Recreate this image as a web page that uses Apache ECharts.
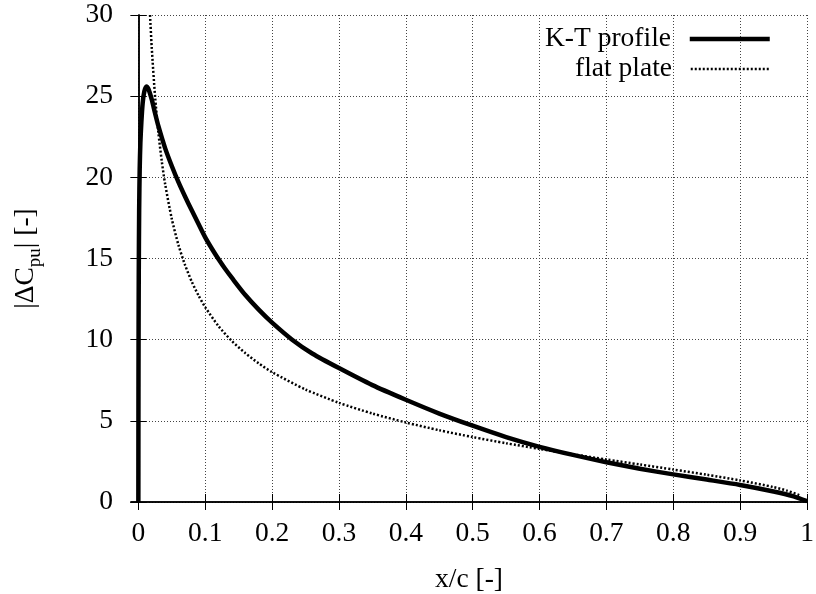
<!DOCTYPE html>
<html><head><meta charset="utf-8">
<script src="https://cdn.jsdelivr.net/npm/echarts@6/dist/echarts.min.js"></script>
<style>html,body{margin:0;padding:0;background:#fff}#c{width:816px;height:594px}</style>
</head><body><div id="c"></div>
<script>
// ---- data ----
const seriesNames = ['K-T profile', 'flat plate'];
const ktX = [0, 0.0002, 0.0006, 0.0012, 0.002, 0.003, 0.0045, 0.0065, 0.009, 0.012, 0.015, 0.02, 0.025, 0.03, 0.04, 0.05, 0.06, 0.07, 0.08, 0.09, 0.1, 0.11, 0.12, 0.13, 0.14, 0.16, 0.18, 0.2, 0.23, 0.26, 0.3, 0.35, 0.4, 0.45, 0.5, 0.55, 0.6, 0.65, 0.7, 0.75, 0.8, 0.85, 0.9, 0.95, 0.98, 1.0];
const ktY = [0, 8, 14, 18, 20.5, 22.1, 23.4, 24.6, 25.3, 25.6, 25.45, 24.8, 23.95, 23.15, 21.8, 20.7, 19.7, 18.8, 17.95, 17.12, 16.3, 15.6, 14.95, 14.35, 13.8, 12.75, 11.85, 11.05, 10.0, 9.15, 8.25, 7.2, 6.3, 5.45, 4.7, 4.0, 3.4, 2.9, 2.45, 2.05, 1.7, 1.38, 1.05, 0.65, 0.35, 0.05];
const fpX = [0.0175, 0.02, 0.025, 0.03, 0.035, 0.04, 0.05, 0.06, 0.07, 0.08, 0.09, 0.1, 0.12, 0.14, 0.16, 0.18, 0.2, 0.25, 0.3, 0.35, 0.4, 0.45, 0.5, 0.55, 0.6, 0.65, 0.7, 0.75, 0.8, 0.85, 0.9, 0.95, 0.97, 0.99];
const fpY = [30.0, 28.0, 24.98, 22.74, 21.0, 19.6, 17.44, 15.83, 14.58, 13.56, 12.72, 12.0, 10.83, 9.91, 9.17, 8.54, 8.0, 6.93, 6.11, 5.45, 4.9, 4.42, 4.0, 3.62, 3.27, 2.94, 2.62, 2.31, 2.0, 1.68, 1.33, 0.92, 0.70, 0.40];
const xTicks = [0, 0.1, 0.2, 0.3, 0.4, 0.5, 0.6, 0.7, 0.8, 0.9, 1];
const yTicks = [0, 5, 10, 15, 20, 25, 30];
const xRange = [-0.011, 1];
const yRange = [0, 30];

// ---- chart ----
const FONT = 'Liberation Serif';
const FS = 27.5;
const zip = (xs, ys) => xs.map((x, i) => [x, ys[i]]);
const gridLine = {show: true, lineStyle: {color: '#444', width: 1, type: [1, 2]}};
const axisLine = {show: true, lineStyle: {color: '#000', width: 1.5}};
const tick = {show: true, inside: true, length: 8, lineStyle: {color: '#000', width: 1}};
const ktStyle = {color: '#000', width: 4.5, join: 'round'};
const fpStyle = {color: '#000', width: 2.5, type: [2, 2]};

const legendBase = {
  orient: 'vertical', right: 44, padding: 0,
  align: 'right', itemWidth: 80, itemHeight: 14,
  formatter: n => n + '  ',
  itemStyle: {opacity: 0, color: 'transparent', borderWidth: 0},
  textStyle: {color: '#000', fontFamily: FONT, fontSize: FS}
};

const option = {
  backgroundColor: '#fff',
  animation: false,
  grid: {left: 131, top: 15, right: 9, bottom: 92, containLabel: false, outerBoundsMode: 'none'},
  xAxis: [{
    type: 'value', min: xRange[0], max: xRange[1], position: 'bottom',
    axisLine: axisLine,
    axisTick: Object.assign({customValues: xTicks}, tick),
    axisLabel: {customValues: xTicks, color: '#000', fontFamily: FONT, fontSize: FS, margin: 18,
      formatter: v => String(v)},
    splitLine: gridLine,
    name: 'x/c [-]', nameLocation: 'middle', nameGap: 64,
    nameTextStyle: {color: '#000', fontFamily: FONT, fontSize: FS}
  }, {
    type: 'value', min: xRange[0], max: xRange[1], position: 'top',
    axisLine: axisLine,
    axisTick: Object.assign({customValues: xTicks}, tick),
    axisLabel: {show: false}, splitLine: {show: false}
  }],
  yAxis: [{
    type: 'value', min: yRange[0], max: yRange[1], interval: 5, position: 'left',
    axisLine: axisLine, axisTick: tick,
    axisLabel: {color: '#000', fontFamily: FONT, fontSize: FS, margin: 18},
    splitLine: gridLine,
    name: '|ΔC{sub|pu}| [-]', nameLocation: 'middle', nameGap: 86, nameRotate: 90,
    nameTextStyle: {color: '#000', fontFamily: FONT, fontSize: FS,
      rich: {sub: {fontFamily: FONT, fontSize: 19, color: '#000', verticalAlign: 'bottom', padding: [20, 0, 0, 0]}}}
  }, {
    type: 'value', min: yRange[0], max: yRange[1], interval: 5, position: 'right',
    axisLine: axisLine, axisTick: tick,
    axisLabel: {show: false}, splitLine: {show: false}
  }],
  legend: [
    Object.assign({}, legendBase, {data: [seriesNames[0]], top: 25, lineStyle: ktStyle}),
    Object.assign({}, legendBase, {data: [seriesNames[1]], top: 55, lineStyle: fpStyle})
  ],
  series: [{
    name: seriesNames[0], type: 'line', data: zip(ktX, ktY), showSymbol: false, symbol: 'none',
    smooth: 0.25, clip: true,
    lineStyle: ktStyle,
    itemStyle: {color: '#000'}
  }, {
    name: seriesNames[1], type: 'line', data: zip(fpX, fpY), showSymbol: false, symbol: 'none',
    smooth: 0.25, clip: true,
    lineStyle: fpStyle,
    itemStyle: {color: '#000'}
  }]
};
const chart = echarts.init(document.getElementById('c'), null, {renderer: 'canvas'});
chart.setOption(option);
</script>
</body></html>
